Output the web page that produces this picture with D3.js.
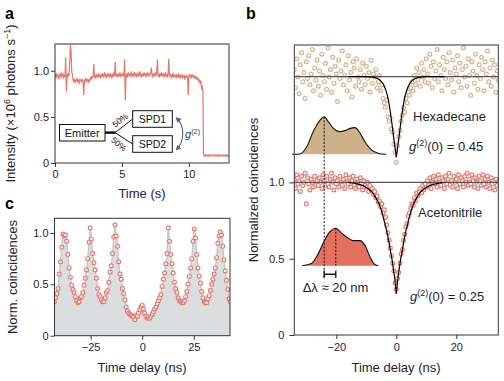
<!DOCTYPE html>
<html><head><meta charset="utf-8">
<script src="https://cdn.jsdelivr.net/npm/d3@7"></script>
<style>body{margin:0;background:#fff}svg{display:block;font-family:"Liberation Sans",Arial,sans-serif}</style>
</head><body><svg id="chart" width="504" height="381"></svg>
<script>
// ---------------- DATA ----------------
// Panel a: intensity trace (×10^6 photons/s), sampled every 0.05 s from 0 to 13 s
const traceStep = 0.05;
const traceValues = [
0.93,0.96,0.92,0.97,0.94,0.95,0.91,0.96,0.94,0.98,0.93,0.95,0.97,0.92,0.95,0.94,1.14,0.78,0.96,0.93,
0.97,0.95,1.10,1.28,1.22,0.99,0.96,0.90,0.88,0.91,0.87,0.90,0.89,0.92,0.88,0.90,0.86,0.91,0.89,0.90,
0.88,0.91,0.87,0.74,0.90,0.89,0.92,0.88,0.90,0.91,0.87,0.90,0.89,0.93,0.91,0.94,0.92,0.95,1.07,0.93,
0.95,0.92,0.96,0.94,0.93,0.97,0.94,0.95,0.92,0.96,0.94,0.97,0.93,0.95,0.98,0.94,0.96,0.92,0.95,0.97,
0.94,0.96,0.93,0.97,0.95,0.92,0.96,0.94,0.98,0.95,1.09,0.94,0.96,0.93,0.97,0.95,0.94,0.98,0.93,0.96,
0.95,0.97,0.94,0.96,1.12,0.68,0.95,0.97,0.93,0.96,0.98,0.94,0.96,0.95,0.99,0.93,0.96,0.97,0.94,0.98,
0.95,0.97,0.93,0.96,0.98,0.94,0.96,0.99,0.95,0.93,0.97,0.96,0.94,0.98,0.95,0.97,0.93,0.96,0.98,0.95,
0.97,0.94,0.96,0.98,1.03,0.95,0.93,0.97,0.96,0.94,0.98,0.95,0.97,1.12,0.94,0.96,0.93,0.97,0.95,0.98,
0.94,0.96,0.97,0.93,0.95,0.98,0.94,0.96,0.93,0.97,1.13,0.95,0.94,0.96,0.92,0.95,0.97,0.93,0.96,0.94,
0.95,0.92,0.96,0.94,0.93,0.97,0.94,0.92,0.95,0.93,0.96,0.92,0.94,0.95,0.91,0.94,0.93,0.95,0.92,0.74,
0.94,0.96,0.93,0.95,0.92,0.96,0.94,0.93,0.95,0.92,0.94,0.91,0.93,0.90,0.92,0.88,0.90,0.86,0.89,0.80,
0.84,0.78,0.09,0.08,0.07,0.09,0.08,0.085,0.075,0.09,0.08,0.07,0.085,0.09,0.08,0.075,0.085,0.08,0.09,0.075,
0.08,0.09,0.075,0.085,0.08,0.07,0.09,0.08,0.085,0.075,0.08,0.09,0.08,0.075,0.085,0.08,0.09,0.07,0.08,0.085,
0.08];
const aXTicks = [0, 5, 10];
const aYTicks = [0, 0.5, 1.0];

// Panel c: normalized coincidences, time bins every 0.6 ns starting at -42.6 ns
const cStart = -42.6, cStep = 0.6;
const cValues = [
0.33,0.37,0.41,0.46,0.60,0.72,0.86,0.99,0.97,0.98,
0.92,0.79,0.66,0.57,0.49,0.45,0.42,0.38,0.34,0.32,
0.33,0.37,0.38,0.42,0.49,0.56,0.64,0.75,0.91,1.05,
0.94,0.80,0.71,0.64,0.56,0.46,0.40,0.38,0.35,0.33,
0.33,0.37,0.42,0.44,0.52,0.62,0.68,0.80,0.96,1.08,
0.97,0.87,0.72,0.60,0.55,0.46,0.41,0.35,0.28,0.24,
0.22,0.21,0.20,0.19,0.18,0.155,0.20,0.19,0.22,0.25,
0.28,0.30,0.26,0.22,0.19,0.17,0.18,0.17,0.19,0.21,
0.23,0.26,0.28,0.31,0.34,0.37,0.40,0.48,0.55,0.61,
0.70,0.80,1.05,0.92,0.79,0.70,0.61,0.52,0.46,0.42,
0.37,0.34,0.33,0.32,0.32,0.34,0.38,0.43,0.50,0.58,
0.66,0.75,0.92,1.04,0.95,0.79,0.66,0.58,0.51,0.43,
0.37,0.33,0.32,0.32,0.36,0.39,0.44,0.50,0.55,0.60,
0.66,0.76,0.90,0.97,1.01,0.98,0.87,0.74,0.63,0.54,
0.45,0.36,0.33];
const cXTicks = [-25, 0, 25];
const cYTicks = [0, 0.5, 1.0];

// Panel b: g2 histograms, bins every 0.4 ns from -34 ns; hexadecane shown offset upward
const bStart = -34, bStep = 0.4;
const hexValues = [
1.74,1.62,1.81,1.69,1.58,1.77,1.85,1.66,1.72,1.55,1.79,1.68,1.83,1.64,1.71,1.87,1.60,1.75,1.67,1.80,
1.63,1.73,1.57,1.84,1.70,1.66,1.78,1.61,1.88,1.69,1.74,1.59,1.82,1.65,1.76,1.71,1.53,1.80,1.68,1.73,
1.86,1.64,1.70,1.77,1.60,1.83,1.67,1.72,1.56,1.79,1.75,1.63,1.81,1.69,1.66,1.74,1.61,1.78,1.70,1.64,
1.76,1.68,1.72,1.59,1.80,1.65,1.71,1.69,1.74,1.62,1.66,1.70,1.60,1.64,1.55,1.52,1.49,1.54,1.43,1.40,
1.42,1.35,1.33,1.25,1.20,1.13,1.24,1.30,1.34,1.40,1.44,
1.49,1.46,1.55,1.52,1.59,1.57,1.62,1.66,1.60,1.70,1.64,1.75,1.67,1.72,1.63,1.78,1.69,1.74,1.66,1.81,
1.71,1.65,1.84,1.76,1.62,1.79,1.68,1.73,1.87,1.66,1.77,1.70,1.60,1.82,1.74,1.68,1.79,1.64,1.85,1.72,
1.67,1.80,1.59,1.75,1.71,1.83,1.66,1.78,1.62,1.74,1.88,1.69,1.76,1.63,1.81,1.70,1.57,1.79,1.73,1.65,
1.84,1.70,1.61,1.77,1.68,1.82,1.74,1.60,1.79,1.71,1.86,1.66,1.75,1.63,1.80,1.69,1.77,1.59,1.73,1.67];
const aceValues = [
1.02,0.96,1.05,0.99,1.01,0.94,1.04,0.98,1.00,1.06,0.86,1.03,0.99,0.95,1.02,1.00,0.97,1.04,0.98,1.01,
0.98,1.03,1.00,0.96,1.05,1.01,0.98,1.04,0.99,0.97,1.02,1.06,1.00,0.95,1.03,0.99,1.01,0.97,1.04,1.00,
0.98,1.02,0.96,1.05,1.00,0.99,1.03,0.97,1.01,1.04,0.98,0.96,1.02,1.00,0.97,1.03,0.99,0.95,1.01,0.98,
0.97,1.00,0.94,0.98,0.95,0.96,0.92,0.94,0.90,0.91,0.87,0.88,0.84,0.86,0.80,0.82,0.77,0.72,0.67,0.62,
0.57,0.52,0.47,0.42,0.34,0.30,0.37,0.41,0.47,0.53,0.56,
0.62,0.66,0.71,0.73,0.78,0.80,0.83,0.86,0.85,0.90,0.88,0.93,0.91,0.94,0.96,0.93,0.98,0.95,0.99,0.97,
1.01,0.98,1.03,0.96,1.00,1.04,0.99,1.02,0.97,1.05,1.00,0.98,1.03,1.01,0.96,1.04,0.99,1.02,1.06,0.98,
1.01,0.97,1.04,1.00,1.02,0.96,1.05,0.99,1.03,1.01,0.97,1.04,1.00,1.06,0.98,1.02,0.99,1.05,1.01,0.97,
1.03,1.00,0.96,1.04,1.01,0.98,1.05,0.99,1.02,0.97,1.04,1.00,0.96,1.03,0.99,1.01,0.95,1.02,0.98,1.00];
// fitted curves
const fitT   = [-34,-16,-14,-12,-10,-8,-7,-6,-5,-4,-3,-2.5,-2,-1.5,-1,-0.5,0,0.5,1,1.5,2,2.5,3,4,5,6,7,8,10,12,14,16,34];
const hexFit = [1.693,1.693,1.693,1.693,1.693,1.690,1.686,1.677,1.661,1.630,1.572,1.524,1.461,1.392,1.313,1.239,1.165,
                1.239,1.313,1.392,1.461,1.524,1.572,1.630,1.661,1.677,1.686,1.690,1.693,1.693,1.693,1.693,1.693];
const aceFit = [1.0,0.999,0.994,0.985,0.967,0.934,0.905,0.869,0.818,0.745,0.664,0.613,0.555,0.504,0.438,0.365,0.27,
                0.365,0.438,0.504,0.555,0.613,0.664,0.745,0.818,0.869,0.905,0.934,0.967,0.985,0.994,0.999,1.0];
const hexBaseline = 1.693, aceBaseline = 1.0;
const bXTicks = [-20, 0, 20];
const bYTicks = [0, 0.5, 1.0];
// emission spectra (normalized)
const hexLambda = [540,553,565,576,588,595,602,611,622,631,640,648,657,665,677,688,701.6];
const hexSpec   = [0,0.01,0.20,0.60,0.91,1.0,0.87,0.69,0.60,0.63,0.69,0.71,0.56,0.34,0.11,0.03,0];
const aceLambda = [557,573,585,596,605,615,625,637,645,657,665,674,681,688];
const aceSpec   = [0,0.06,0.33,0.69,0.91,1.0,0.87,0.73,0.67,0.67,0.55,0.24,0.05,0];
const hexPeak = 595, acePeak = 615;

// ---------------- DRAWING ----------------
const INK = '#1f2230';
const SALMON = '#e5786b';
const TAN = '#d1b48d';
const svg = d3.select('#chart');
const defs = svg.append('defs');

function styleAxis(g, fs) {
  g.select('.domain').remove();
  g.selectAll('.tick line').attr('stroke', '#333');
  g.selectAll('.tick text').attr('fill', INK).attr('font-size', fs).attr('font-family', '"Liberation Sans",Arial,sans-serif');
}
const yFmt = d => d === 0 ? '0' : d.toFixed(1);
function frame(x0, y0, x1, y1) {
  svg.append('rect').attr('x', x0).attr('y', y0).attr('width', x1 - x0).attr('height', y1 - y0)
    .attr('fill', 'none').attr('stroke', '#333').attr('stroke-width', 1);
}
function clip(id, x0, y0, x1, y1) {
  defs.append('clipPath').attr('id', id).append('rect').attr('x', x0).attr('y', y0).attr('width', x1 - x0).attr('height', y1 - y0);
}
function label(txt, x, y) {
  svg.append('text').attr('x', x).attr('y', y).attr('font-size', 16).attr('font-weight', 'bold').attr('fill', '#000').text(txt);
}

// ===== Panel a =====
const ax = d3.scaleLinear().domain([0, 13]).range([55, 229]);
const ay = d3.scaleLinear().domain([0, 1.29]).range([163, 44]);
clip('clipA', 55, 44, 229, 163);
const traceData = traceValues.map((v, i) => [i * traceStep, v]);
svg.append('path').datum(traceData).attr('clip-path', 'url(#clipA)')
  .attr('fill', 'none').attr('stroke', '#e8796d').attr('stroke-width', 1.25).attr('stroke-linejoin', 'round')
  .attr('d', d3.line().x(d => ax(d[0])).y(d => ay(d[1])));
frame(55, 44, 229, 163);
svg.append('g').attr('transform', 'translate(0,163)')
  .call(d3.axisBottom(ax).tickValues(aXTicks).tickSize(4).tickPadding(3).tickFormat(d3.format('d')))
  .call(g => styleAxis(g, 11));
svg.append('g').attr('transform', 'translate(55,0)')
  .call(d3.axisLeft(ay).tickValues(aYTicks).tickSize(4).tickPadding(2).tickFormat(yFmt))
  .call(g => styleAxis(g, 11));
svg.append('text').attr('x', 142).attr('y', 198).attr('text-anchor', 'middle').attr('font-size', 13).attr('fill', INK).text('Time (s)');
{
  const t = svg.append('text').attr('transform', 'translate(15,103.5) rotate(-90)').attr('text-anchor', 'middle')
    .attr('font-size', 13).attr('fill', INK);
  t.append('tspan').text('Intensity (×10');
  t.append('tspan').attr('baseline-shift', 'super').attr('font-size', 9).text('6');
  t.append('tspan').text(' photons s');
  t.append('tspan').attr('baseline-shift', 'super').attr('font-size', 9).text('−1');
  t.append('tspan').text(')');
}
// diagram inset
const dg = svg.append('g');
dg.append('rect').attr('x', 59.5).attr('y', 124.5).attr('width', 45.5).attr('height', 16.5).attr('fill', '#fff').attr('stroke', '#111');
dg.append('text').attr('x', 82.2).attr('y', 136.8).attr('text-anchor', 'middle').attr('font-size', 11).attr('fill', '#111').text('Emitter');
dg.append('line').attr('x1', 105).attr('y1', 132.6).attr('x2', 115.5).attr('y2', 132.6).attr('stroke', '#111').attr('stroke-width', 2.5);
dg.append('line').attr('x1', 115).attr('y1', 132.6).attr('x2', 132.7).attr('y2', 119).attr('stroke', '#111').attr('stroke-width', 1);
dg.append('line').attr('x1', 115).attr('y1', 132.6).attr('x2', 132.7).attr('y2', 144).attr('stroke', '#111').attr('stroke-width', 1);
[['SPD1', 110.7], ['SPD2', 135.7]].forEach(([s, y]) => {
  dg.append('rect').attr('x', 132.7).attr('y', y).attr('width', 39.6).attr('height', 16.6).attr('fill', '#fff').attr('stroke', '#111');
  dg.append('text').attr('x', 152.5).attr('y', y + 12.3).attr('text-anchor', 'middle').attr('font-size', 10.5).attr('fill', '#111').text(s);
});
dg.append('text').attr('transform', 'translate(122,122.5) rotate(-38)').attr('text-anchor', 'middle').attr('font-size', 8.5).attr('fill', '#111').text('50%');
dg.append('text').attr('transform', 'translate(117,146.5) rotate(40)').attr('text-anchor', 'middle').attr('font-size', 8.5).attr('fill', '#111').text('50%');
defs.append('marker').attr('id', 'arr').attr('viewBox', '0 0 10 10').attr('refX', 5).attr('refY', 5)
  .attr('markerWidth', 5).attr('markerHeight', 5).attr('orient', 'auto-start-reverse')
  .append('path').attr('d', 'M0,0 L10,5 L0,10 z').attr('fill', '#56657c');
dg.append('path').attr('d', 'M177.5,119 C184.5,126 184.5,141 177.5,148.5').attr('fill', 'none').attr('stroke', '#56657c').attr('stroke-width', 1.1)
  .attr('marker-start', 'url(#arr)').attr('marker-end', 'url(#arr)');
{
  const t = dg.append('text').attr('x', 185).attr('y', 138).attr('font-size', 11).attr('fill', '#2f3d5a');
  t.append('tspan').attr('font-style', 'italic').text('g');
  t.append('tspan').attr('baseline-shift', 'super').attr('font-size', 7.5).text('(2)');
}

// ===== Panel c =====
const cx = d3.scaleLinear().domain([-42.5, 42.5]).range([54.5, 230]);
const cy = d3.scaleLinear().domain([0, 1.143]).range([335.7, 218.3]);
clip('clipC', 54.5, 218.3, 230, 335.7);
const cData = cValues.map((v, i) => [cStart + i * cStep, v]);
const gc = svg.append('g').attr('clip-path', 'url(#clipC)');
gc.append('path').datum(cData).attr('fill', '#dcdddf')
  .attr('d', d3.area().x(d => cx(d[0])).y0(cy(0)).y1(d => cy(d[1])).curve(d3.curveMonotoneX));
gc.append('path').datum(cData).attr('fill', 'none').attr('stroke', '#c3c5c8').attr('stroke-width', 1.3)
  .attr('d', d3.line().x(d => cx(d[0])).y(d => cy(d[1])).curve(d3.curveMonotoneX));
gc.selectAll('circle').data(cData).join('circle')
  .attr('cx', d => cx(d[0])).attr('cy', d => cy(d[1])).attr('r', 1.9)
  .attr('fill', '#fff').attr('stroke', SALMON).attr('stroke-width', 1.2);
frame(54.5, 218.3, 230, 335.7);
svg.append('g').attr('transform', 'translate(0,335.7)')
  .call(d3.axisBottom(cx).tickValues(cXTicks).tickSize(4).tickPadding(4).tickFormat(d3.format('d')))
  .call(g => styleAxis(g, 11));
svg.append('g').attr('transform', 'translate(54.5,0)')
  .call(d3.axisLeft(cy).tickValues(cYTicks).tickSize(4).tickPadding(2).tickFormat(yFmt))
  .call(g => styleAxis(g, 11));
svg.append('text').attr('x', 142).attr('y', 372).attr('text-anchor', 'middle').attr('font-size', 13).attr('fill', INK).text('Time delay (ns)');
svg.append('text').attr('transform', 'translate(17,277) rotate(-90)').attr('text-anchor', 'middle').attr('font-size', 13).attr('fill', INK).text('Norm. coincidences');

// ===== Panel b =====
const bx = d3.scaleLinear().domain([-34, 34]).range([294.3, 498.3]);
const by = d3.scaleLinear().domain([0, 1.9]).range([335, 45]);
clip('clipB', 294.3, 45, 498.3, 335);
const gb = svg.append('g').attr('clip-path', 'url(#clipB)');
const hexData = hexValues.map((v, i) => [bStart + i * bStep, v]);
const aceData = aceValues.map((v, i) => [bStart + i * bStep, v]);
gb.selectAll('circle.h').data(hexData).join('circle').attr('class', 'h')
  .attr('cx', d => bx(d[0])).attr('cy', d => by(d[1])).attr('r', 1.9)
  .attr('fill', '#fff').attr('stroke', TAN).attr('stroke-width', 1.2);
gb.selectAll('circle.a').data(aceData).join('circle').attr('class', 'a')
  .attr('cx', d => bx(d[0])).attr('cy', d => by(d[1])).attr('r', 1.9)
  .attr('fill', '#fff').attr('stroke', SALMON).attr('stroke-width', 1.2);
[hexBaseline, aceBaseline].forEach(v => {
  gb.append('line').attr('x1', 294.3).attr('x2', 498.3).attr('y1', by(v)).attr('y2', by(v))
    .attr('stroke', '#555').attr('stroke-width', 1.3);
});
const fitLine = () => d3.line().x(d => bx(d[0])).y(d => by(d[1])).curve(d3.curveMonotoneX);
[hexFit, aceFit].forEach(fv => {
  const pts = fitT.map((t, i) => [t, fv[i]]).filter(d => Math.abs(d[0]) <= 16);
  const left = pts.filter(d => d[0] <= 0), right = pts.filter(d => d[0] >= 0);
  [left, right].forEach(p => gb.append('path').datum(p).attr('fill', 'none').attr('stroke', '#000').attr('stroke-width', 1.2).attr('d', fitLine()));
});
// spectra insets
const lx = d3.scaleLinear().domain([540, 701.6]).range([292.3, 386]);
const hy = d3.scaleLinear().domain([0, 1]).range([154.3, 116.7]);
const ay2 = d3.scaleLinear().domain([0, 1]).range([265.7, 228.3]);
svg.append('path').datum(hexLambda.map((l, i) => [l, hexSpec[i]])).attr('fill', '#cfb189').attr('stroke', '#111').attr('stroke-width', 1.1)
  .attr('d', d3.line().x(d => lx(d[0])).y(d => hy(d[1])).curve(d3.curveMonotoneX));
svg.append('path').datum(aceLambda.map((l, i) => [l, aceSpec[i]])).attr('fill', '#e4705f').attr('stroke', '#111').attr('stroke-width', 1.1)
  .attr('d', d3.line().x(d => lx(d[0])).y(d => ay2(d[1])).curve(d3.curveMonotoneX));
const hpv = hexSpec[hexLambda.indexOf(hexPeak)], apv = aceSpec[aceLambda.indexOf(acePeak)];
svg.append('line').attr('x1', lx(hexPeak)).attr('x2', lx(hexPeak)).attr('y1', hy(hpv)).attr('y2', 278)
  .attr('stroke', '#111').attr('stroke-width', 1).attr('stroke-dasharray', '2,1.6');
svg.append('line').attr('x1', lx(acePeak)).attr('x2', lx(acePeak)).attr('y1', ay2(apv)).attr('y2', ay2(0))
  .attr('stroke', '#111').attr('stroke-width', 1).attr('stroke-dasharray', '2,1.6');
const barY = 274.3;
svg.append('line').attr('x1', lx(hexPeak)).attr('x2', lx(acePeak)).attr('y1', barY).attr('y2', barY).attr('stroke', '#111').attr('stroke-width', 1.5);
[hexPeak, acePeak].forEach(l => svg.append('line').attr('x1', lx(l)).attr('x2', lx(l)).attr('y1', barY - 3.8).attr('y2', barY + 3.8).attr('stroke', '#111').attr('stroke-width', 1.3));
svg.append('text').attr('x', 302.7).attr('y', 292).attr('font-size', 13).attr('fill', INK).text('Δλ ≈ 20 nm');
frame(294.3, 45, 498.3, 335);
svg.append('g').attr('transform', 'translate(0,335)')
  .call(d3.axisBottom(bx).tickValues(bXTicks).tickSize(4).tickPadding(4).tickFormat(d3.format('d')))
  .call(g => styleAxis(g, 11));
svg.append('g').attr('transform', 'translate(294.3,0)')
  .call(d3.axisLeft(by).tickValues(bYTicks).tickSize(5).tickPadding(5).tickFormat(yFmt))
  .call(g => styleAxis(g, 11));
svg.append('text').attr('x', 396).attr('y', 372).attr('text-anchor', 'middle').attr('font-size', 13).attr('fill', INK).text('Time delay (ns)');
svg.append('text').attr('transform', 'translate(258,190) rotate(-90)').attr('text-anchor', 'middle').attr('font-size', 13).attr('fill', INK).text('Normalized coincidences');
function g2label(x, y, val) {
  const t = svg.append('text').attr('x', x).attr('y', y).attr('font-size', 13).attr('fill', INK);
  t.append('tspan').attr('font-style', 'italic').text('g');
  t.append('tspan').attr('baseline-shift', 'super').attr('font-size', 9).text('(2)');
  t.append('tspan').text('(0) = ' + val);
}
svg.append('text').attr('x', 413).attr('y', 121).attr('font-size', 13).attr('fill', INK).text('Hexadecane');
g2label(409, 151, '0.45');
svg.append('text').attr('x', 418).attr('y', 217).attr('font-size', 13).attr('fill', INK).text('Acetonitrile');
g2label(410, 301, '0.25');

label('a', 5, 19);
label('b', 246, 19);
label('c', 5, 209);
</script></body></html>
